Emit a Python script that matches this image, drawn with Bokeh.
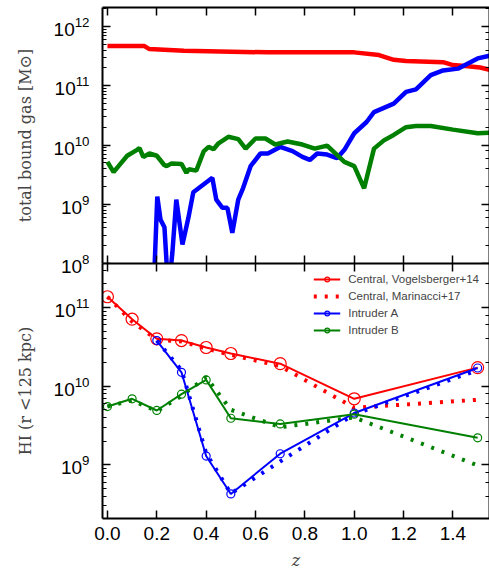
import numpy as np
from bokeh.plotting import figure
from bokeh.layouts import column
from bokeh.models import (LinearAxis, LogAxis, FixedTicker, LogTicker,
                          PrintfTickFormatter, Range1d, Legend, LegendItem)
from bokeh.embed import file_html
from bokeh.resources import INLINE

RED = "#ff0000"
BLUE = "#0000ff"
GREEN = "#008000"

# ---------------- top panel: total bound gas ----------------
top_central_z = [0.0, 0.15, 0.17, 0.31, 0.65, 1.0, 1.1, 1.16, 1.21, 1.36, 1.40, 1.46, 1.51, 1.56]
top_central_m = [4.68e11, 4.68e11, 4.17e11, 3.89e11, 3.67e11, 3.67e11, 3.31e11, 2.75e11,
                 2.63e11, 2.51e11, 2.24e11, 2.14e11, 2.04e11, 1.82e11]

top_a_z = [0.186, 0.202, 0.215, 0.231, 0.247, 0.263, 0.279, 0.304, 0.328, 0.348, 0.425,
           0.441, 0.466, 0.486, 0.506, 0.530, 0.55, 0.58, 0.62, 0.65, 0.70, 0.75, 0.79,
           0.82, 0.85, 0.89, 0.93, 0.96, 1.00, 1.05, 1.08, 1.16, 1.21, 1.25, 1.31, 1.36,
           1.42, 1.50, 1.56]
top_a_m = [2.5e7, 1.35e9, 5.5e8, 4.1e8, 3.2e7, 1.5e8, 1.2e9, 2.1e8, 5.9e8, 1.6e9, 2.8e9,
           1.2e9, 8.7e8, 8.7e8, 3.3e8, 1.2e9, 1.9e9, 4.4e9, 7.2e9, 7.2e9, 9.3e9, 7.9e9,
           6.3e9, 5.6e9, 7.2e9, 6.9e9, 6.0e9, 8.3e9, 1.58e10, 2.45e10, 3.6e10, 5.0e10,
           7.9e10, 8.7e10, 1.51e11, 1.82e11, 1.95e11, 2.9e11, 3.3e11]

top_b_z = [0.0, 0.025, 0.045, 0.08, 0.12, 0.13, 0.145, 0.17, 0.20, 0.23, 0.24, 0.26, 0.30,
           0.32, 0.33, 0.36, 0.39, 0.41, 0.43, 0.45, 0.49, 0.53, 0.56, 0.60, 0.64, 0.68,
           0.73, 0.79, 0.84, 0.89, 0.96, 1.00, 1.04, 1.08, 1.12, 1.16, 1.21, 1.25, 1.31,
           1.40, 1.50, 1.56]
top_b_m = [5.2e9, 3.5e9, 4.4e9, 6.6e9, 8.3e9, 8.9e9, 6.3e9, 7.2e9, 6.6e9, 4.6e9, 4.4e9,
           4.9e9, 4.8e9, 3.4e9, 3.9e9, 3.7e9, 7.8e9, 9.3e9, 8.5e9, 1.07e10, 1.38e10,
           1.26e10, 8.7e9, 1.29e10, 1.29e10, 1.02e10, 1.15e10, 1.02e10, 8.7e9, 9.8e9,
           5.2e9, 4.4e9, 1.86e9, 8.7e9, 1.2e10, 1.48e10, 2.0e10, 2.09e10, 2.09e10,
           1.82e10, 1.58e10, 1.62e10]

# ---------------- bottom panel: HI within 125 kpc ----------------
z_snap = [0.0, 0.1, 0.2, 0.3, 0.4, 0.5, 0.7, 1.0, 1.5]
z_snap_a = [0.2, 0.3, 0.4, 0.5, 0.7, 1.0, 1.5]
hi_central_v14 = [1.37e11, 7.1e10, 4.0e10, 3.8e10, 3.1e10, 2.6e10, 1.93e10, 6.9e9, 1.72e10]
hi_central_m17 = [1.37e11, 6.6e10, 3.9e10, 3.7e10, 3.0e10, 2.5e10, 1.8e10, 5.3e9, 6.7e9]
hi_a_v14 = [3.8e10, 1.5e10, 1.29e9, 4.25e8, 1.38e9, 4.55e9, 1.7e10]
hi_a_m17 = [3.8e10, 1.6e10, 1.4e9, 4.3e8, 1.1e9, 4.4e9, 1.6e10]
hi_b_v14 = [5.5e9, 6.9e9, 4.9e9, 7.9e9, 1.2e10, 3.9e9, 3.3e9, 4.4e9, 2.2e9]
hi_b_m17 = [5.5e9, 6.6e9, 4.8e9, 7.5e9, 1.3e10, 5.0e9, 3.0e9, 4.0e9, 9.8e8]

x_ticks = [0.0, 0.2, 0.4, 0.6, 0.8, 1.0, 1.2, 1.4]

W = 489
LEFT = 102
OVER = 16
TICK_FONT = "Liberation Sans"
TICK_SIZE = "19px"
LABEL_FONT = "DejaVu Serif"
LABEL_SIZE = "16px"

x_range = Range1d(-0.02, 1.548)


def style(ax, labels):
    ax.axis_line_width = 2
    ax.axis_line_color = "black"
    ax.major_tick_in = 8
    ax.major_tick_out = 0
    ax.minor_tick_in = 4
    ax.minor_tick_out = 0
    ax.major_tick_line_width = 1.5
    ax.minor_tick_line_width = 1
    ax.major_tick_line_color = "black"
    ax.minor_tick_line_color = "black"
    if labels:
        ax.major_label_text_font = TICK_FONT
        ax.major_label_text_font_size = TICK_SIZE
        ax.major_label_text_color = "black"
    else:
        ax.major_label_text_font_size = "0px"
        ax.major_label_standoff = 0
        ax.major_label_text_alpha = 0


def make_fig(h, yr, mb_top, mb_bottom):
    p = figure(width=W, height=h, x_range=x_range, y_range=yr, y_axis_type="log",
               output_backend="svg", toolbar_location=None,
               min_border_left=LEFT, min_border_right=0, min_border_top=mb_top,
               min_border_bottom=mb_bottom)
    p.xgrid.visible = False
    p.ygrid.visible = False
    p.outline_line_color = None
    p.background_fill_color = "white"
    return p


def style_ylabel(ax, text):
    ax.axis_label = text
    ax.axis_label_text_font = LABEL_FONT
    ax.axis_label_text_font_size = LABEL_SIZE
    ax.axis_label_text_font_style = "normal"
    ax.axis_label_standoff = 16
    ax.major_label_standoff = 13


# ---- top figure ----
p1 = make_fig(7 + 256 + OVER, Range1d(1e8, 2.1e12), 7, OVER)
p1.border_fill_color = "white"
p1.xaxis[0].ticker = FixedTicker(ticks=x_ticks)
style(p1.xaxis[0], False)
style(p1.yaxis[0], True)
style_ylabel(p1.yaxis[0], "total bound gas [M\u2299]")

ax_top = LinearAxis(ticker=FixedTicker(ticks=x_ticks))
style(ax_top, False)
p1.add_layout(ax_top, "above")
ax_r1 = LogAxis(ticker=LogTicker())
style(ax_r1, False)
p1.add_layout(ax_r1, "right")

p1.line(top_central_z, top_central_m, color=RED, line_width=4.5)
p1.line(top_a_z, top_a_m, color=BLUE, line_width=4.5)
p1.line(top_b_z, top_b_m, color=GREEN, line_width=4.5)

# ---- bottom figure ----
p2 = make_fig(576 - 263, Range1d(2.07e8, 3.63e11), 0, 58)
p2.border_fill_color = None
p2.styles = {"margin-top": "-%dpx" % OVER}
p2.xaxis[0].ticker = FixedTicker(ticks=x_ticks)
p2.xaxis[0].formatter = PrintfTickFormatter(format="%.1f")
style(p2.xaxis[0], True)
p2.xaxis[0].major_label_standoff = 8
p2.xaxis[0].axis_label = "z"
p2.xaxis[0].axis_label_text_font = LABEL_FONT
p2.xaxis[0].axis_label_text_font_size = LABEL_SIZE
p2.xaxis[0].axis_label_text_font_style = "italic"
p2.xaxis[0].axis_label_standoff = 8
style(p2.yaxis[0], True)
style_ylabel(p2.yaxis[0], "HI (r <125 kpc)")

ax_top2 = LinearAxis(ticker=FixedTicker(ticks=x_ticks))
style(ax_top2, False)
p2.add_layout(ax_top2, "above")
ax_r2 = LogAxis(ticker=LogTicker())
style(ax_r2, False)
p2.add_layout(ax_r2, "right")

DASH = "3 8"
r_cm = p2.line(z_snap, hi_central_m17, color=RED, line_width=4, line_dash=DASH)
p2.line(z_snap_a, hi_a_m17, color=BLUE, line_width=4, line_dash=DASH)
p2.line(z_snap, hi_b_m17, color=GREEN, line_width=4, line_dash=DASH)

r_cl = p2.line(z_snap, hi_central_v14, color=RED, line_width=2)
r_cs = p2.scatter(z_snap, hi_central_v14, marker="circle", size=12, fill_color=None,
                  line_color=RED, line_width=1.2)
r_al = p2.line(z_snap_a, hi_a_v14, color=BLUE, line_width=2)
r_as = p2.scatter(z_snap_a, hi_a_v14, marker="circle", size=8, fill_color=None,
                  line_color=BLUE, line_width=1.2)
r_bl = p2.line(z_snap, hi_b_v14, color=GREEN, line_width=2)
r_bs = p2.scatter(z_snap, hi_b_v14, marker="circle", size=8, fill_color=None,
                  line_color=GREEN, line_width=1.2)

legend = Legend(items=[
    LegendItem(label="Central, Vogelsberger+14", renderers=[r_cl, r_cs]),
    LegendItem(label="Central, Marinacci+17", renderers=[r_cm]),
    LegendItem(label="Intruder A", renderers=[r_al, r_as]),
    LegendItem(label="Intruder B", renderers=[r_bl, r_bs]),
], location="top_right")
legend.background_fill_alpha = 0
legend.border_line_color = None
legend.label_text_font = TICK_FONT
legend.label_text_font_size = "11.5px"
legend.label_height = 12
legend.glyph_height = 12
legend.glyph_width = 27
legend.label_standoff = 8
legend.spacing = 5
legend.padding = 5
legend.margin = 10
p2.add_layout(legend, "center")

layout = column(p1, p2, spacing=0)
open("out.html", "w").write(file_html(layout, INLINE))
